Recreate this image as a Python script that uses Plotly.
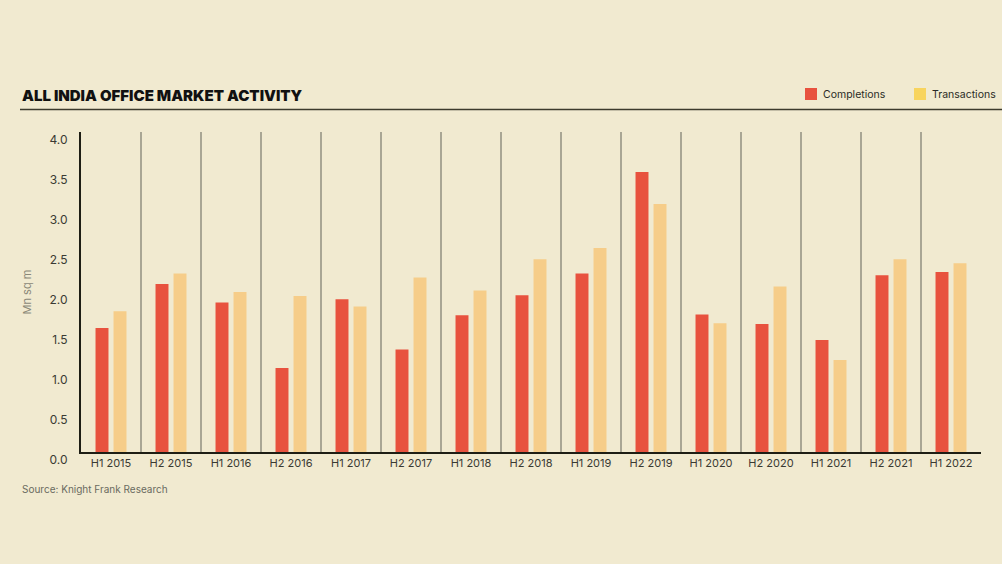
import plotly.graph_objects as go

categories = ["H1 2015", "H2 2015", "H1 2016", "H2 2016", "H1 2017", "H2 2017", "H1 2018",
              "H2 2018", "H1 2019", "H2 2019", "H1 2020", "H2 2020", "H1 2021", "H2 2021", "H1 2022"]
completions = [1.55, 2.10, 1.87, 1.05, 1.91, 1.28, 1.71, 1.96, 2.23, 3.50, 1.72, 1.60, 1.40, 2.21, 2.25]
transactions = [1.76, 2.23, 2.00, 1.95, 1.82, 2.18, 2.02, 2.41, 2.55, 3.10, 1.61, 2.07, 1.15, 2.41, 2.36]
y_ticks = [0, 0.5, 1.0, 1.5, 2.0, 2.5, 3.0, 3.5, 4.0]
series_names = ["Completions", "Transactions"]

BG = "#f1ead0"
RED = "#e8523e"
PEACH = "#f6cd89"
YELLOW = "#f8d45e"
FONT = "Inter, Roboto, sans-serif"

L, R, T, B = 81, 21, 132, 112
PW, PH = 1002 - L - R, 564 - T - B


def px_x(p):
    return (p - L) / PW


def px_y(p):
    return 1 + (T - p) / PH


xs = list(range(len(categories)))

fig = go.Figure()
fig.add_trace(go.Bar(x=xs, y=completions, name=series_names[0], marker_color=RED,
                     marker_line_width=0))
fig.add_trace(go.Bar(x=xs, y=transactions, name=series_names[1], marker_color=PEACH,
                     marker_line_width=0))

fig.update_layout(
    width=1002, height=564,
    paper_bgcolor=BG, plot_bgcolor=BG,
    margin=dict(l=L, r=R, t=T, b=B),
    barmode="group", bargap=0.4, bargroupgap=0.28,
    font=dict(family=FONT, color="#3a3a33"),
    showlegend=False,
)

fig.update_xaxes(
    range=[-0.5, len(categories) - 0.5],
    tickmode="array", tickvals=xs, ticktext=categories,
    tickfont=dict(size=11, color="#3a3a33"),
    showgrid=False, ticks="", ticklen=0,
    showline=True, linecolor="#1e1e14", linewidth=2,
    minor=dict(tickmode="array", tickvals=[i + 0.5 for i in xs], showgrid=True,
               gridcolor="#a9a694", gridwidth=2, ticks=""),
    zeroline=False, fixedrange=True,
)
fig.update_yaxes(
    range=[0, 4.0],
    tickmode="array", tickvals=y_ticks, ticktext=[f"{v:.1f}" for v in y_ticks],
    tickfont=dict(size=12, color="#3a3a33"),
    ticklabelshift=8, ticklabelstandoff=9,
    showgrid=False, ticks="",
    showline=True, linecolor="#1e1e14", linewidth=2,
    zeroline=False, fixedrange=True,
    title=dict(text="Mn sq m", font=dict(size=11, color="#8a8878"), standoff=16),
)

# title, rule and source
fig.add_annotation(text="ALL INDIA OFFICE MARKET ACTIVITY", xref="paper", yref="paper",
                   x=px_x(20), y=px_y(96), xanchor="left", yanchor="middle",
                   showarrow=False, font=dict(size=15, color="#111111", family=FONT, weight=900))
fig.add_annotation(text="Source: Knight Frank Research", xref="paper", yref="paper",
                   x=px_x(20), y=px_y(489), xanchor="left", yanchor="middle",
                   showarrow=False, font=dict(size=10, color="#6a6a60", family=FONT))
fig.add_shape(type="line", xref="paper", yref="paper",
              x0=px_x(20), x1=px_x(1002), y0=px_y(109.5), y1=px_y(109.5),
              line=dict(color="#3c3a2c", width=1.5))

# custom legend
for name, col, sx in zip(series_names, [RED, YELLOW], [805, 914]):
    fig.add_shape(type="rect", xref="paper", yref="paper",
                  x0=px_x(sx), x1=px_x(sx + 12), y0=px_y(100), y1=px_y(88),
                  fillcolor=col, line_width=0)
    fig.add_annotation(text=name, xref="paper", yref="paper",
                       x=px_x(sx + 16), y=px_y(94), xanchor="left", yanchor="middle",
                       showarrow=False, font=dict(size=10.5, color="#2a2a25", family=FONT))

fig.write_html("out.html", config={"displayModeBar": False},
               post_script="document.body.style.margin='0';")
